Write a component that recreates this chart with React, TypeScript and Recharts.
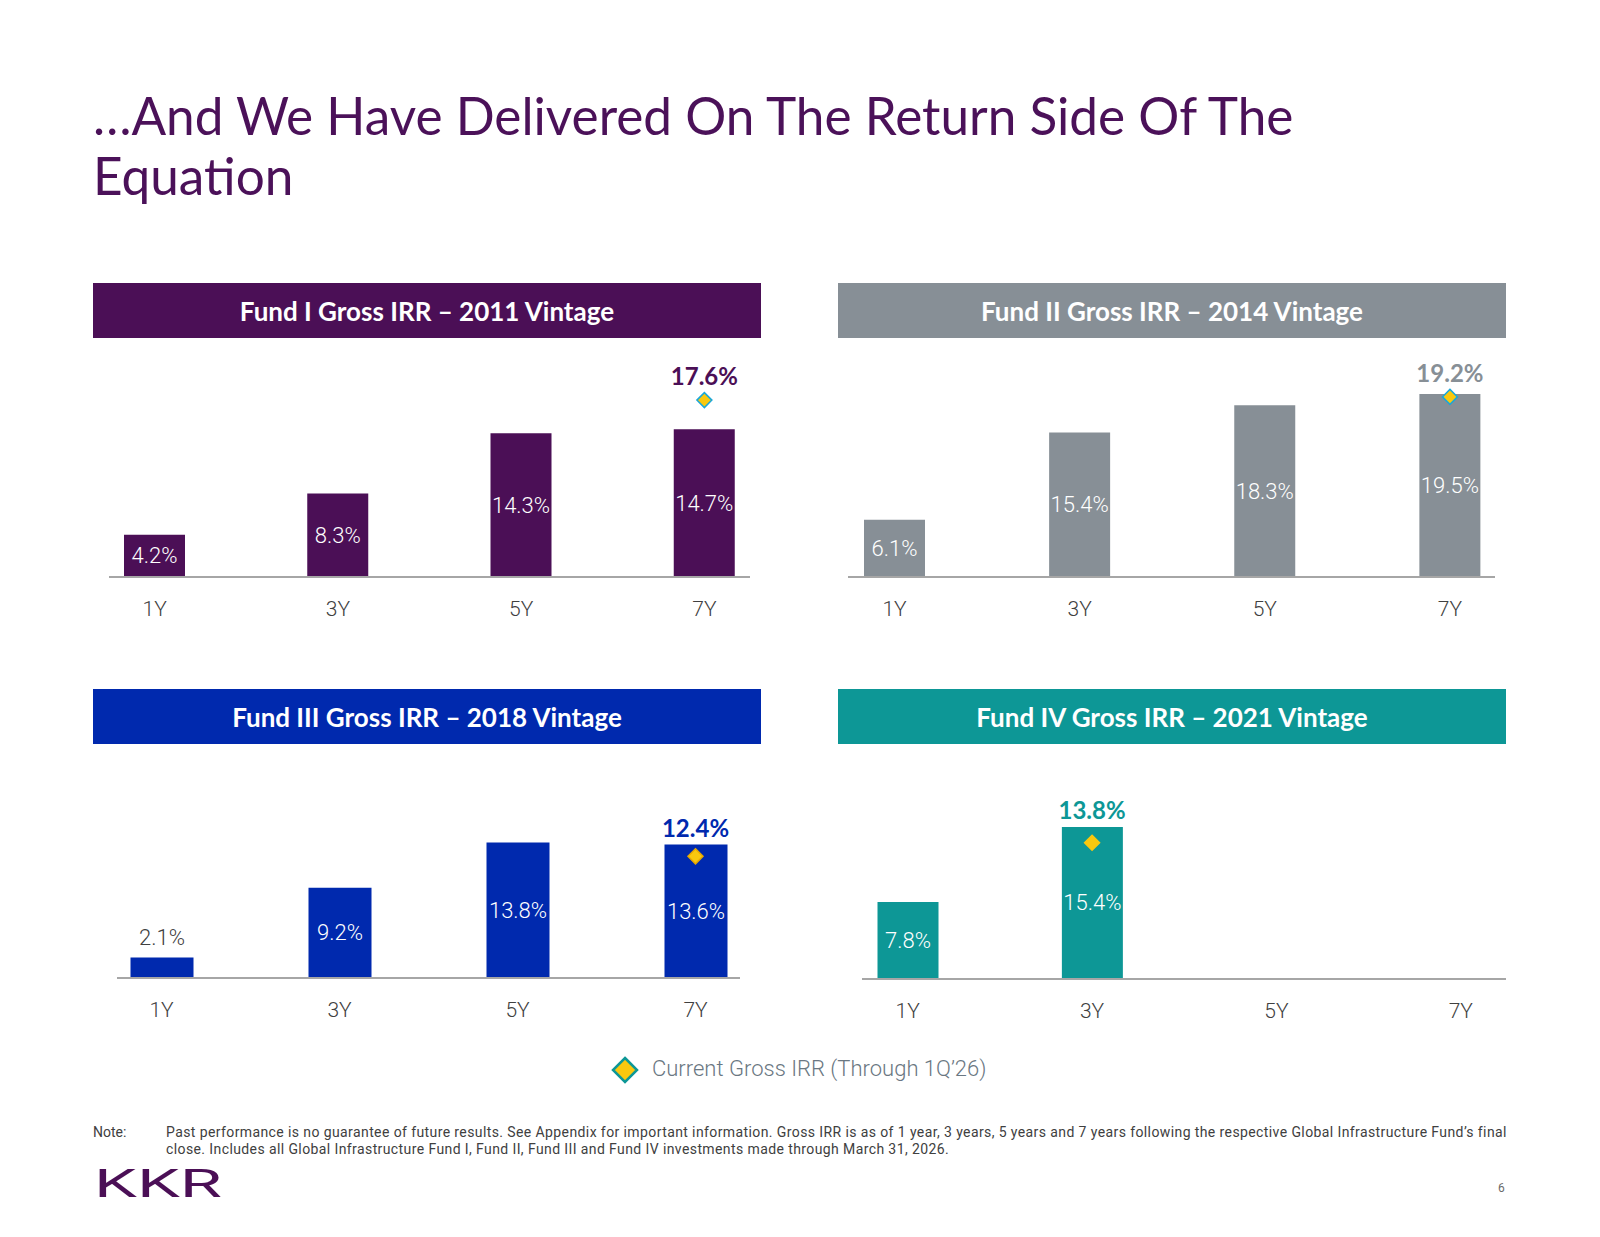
import React from 'react';
import { ComposedChart, Bar, Line, XAxis, YAxis, LabelList } from 'recharts';

// Holding periods shown on every panel
const periods = ['1Y', '3Y', '5Y', '7Y'];

// Gross IRR (%) by holding period, one array per fund
const fund1Irr = [4.2, 8.3, 14.3, 14.7];
const fund2Irr = [6.1, 15.4, 18.3, 19.5];
const fund3Irr = [2.1, 9.2, 13.8, 13.6];
const fund4Irr = [7.8, 15.4, null, null];

// Current gross IRR (through 1Q'26), placed on the latest period reached
const fund1Current = [null, null, null, 17.6];
const fund2Current = [null, null, null, 19.2];
const fund3Current = [null, null, null, 12.4];
const fund4Current = [null, 13.8, null, null];

const fundTitles = [
  'Fund I Gross IRR – 2011 Vintage',
  'Fund II Gross IRR – 2014 Vintage',
  'Fund III Gross IRR – 2018 Vintage',
  'Fund IV Gross IRR – 2021 Vintage',
];

const PURPLE = '#4B0F56';
const GRAY = '#878F96';
const BLUE = '#0029AE';
const TEAL = '#0D9796';
const DIAMOND_FILL = '#F9C80E';
const TEXT_DARK = '#404040';

const LIGHT_FONT = 'Roboto, sans-serif';
const HEAD_FONT = 'Lato, sans-serif';

type Val = number | null;

interface PanelConfig {
  title: string;
  color: string;
  diamondStroke: string;
  irr: Val[];
  current: Val[];
  headerLeft: number;
  headerTop: number;
  axisLeft: number;
  axisRight: number;
  baseline: number;
  yMax: number;
  plotHeight: number;
  padLeft: number;
  padRight: number;
  barSize: number;
}

const HEADER_W = 668;
const HEADER_H = 55;
const MARGIN_TOP = 60;
const AXIS_H = 60;

const panels: PanelConfig[] = [
  {
    title: fundTitles[0], color: PURPLE, diamondStroke: '#1AA7D9',
    irr: fund1Irr, current: fund1Current,
    headerLeft: 93, headerTop: 283,
    axisLeft: 109, axisRight: 750, baseline: 577,
    yMax: 20, plotHeight: 201, padLeft: -46, padRight: -46, barSize: 61,
  },
  {
    title: fundTitles[1], color: GRAY, diamondStroke: '#1AA7D9',
    irr: fund2Irr, current: fund2Current,
    headerLeft: 838, headerTop: 283,
    axisLeft: 848, axisRight: 1495, baseline: 577,
    yMax: 21, plotHeight: 197, padLeft: -46, padRight: -47.5, barSize: 61,
  },
  {
    title: fundTitles[2], color: BLUE, diamondStroke: '#E8A800',
    irr: fund3Irr, current: fund3Current,
    headerLeft: 93, headerTop: 689,
    axisLeft: 117, axisRight: 740, baseline: 978,
    yMax: 16, plotHeight: 157, padLeft: -44.5, padRight: -44.5, barSize: 63,
  },
  {
    title: fundTitles[3], color: TEAL, diamondStroke: DIAMOND_FILL,
    irr: fund4Irr, current: fund4Current,
    headerLeft: 838, headerTop: 689,
    axisLeft: 862, axisRight: 1506, baseline: 979,
    yMax: 16, plotHeight: 158, padLeft: -46.5, padRight: -47, barSize: 61,
  },
];

const fmt = (v: number) => `${v.toFixed(1)}%`;

const Diamond = ({ cx, cy, r, fill, stroke, sw }: any) => (
  <polygon
    points={`${cx},${cy - r} ${cx + r},${cy} ${cx},${cy + r} ${cx - r},${cy}`}
    fill={fill}
    stroke={stroke}
    strokeWidth={sw}
  />
);

const PeriodTick = ({ x, y, payload }: any) => (
  <text x={x} y={y} textAnchor="middle" dominantBaseline="central"
    fontFamily={LIGHT_FONT} fontWeight={300} fontSize={21} fill={TEXT_DARK}>
    {payload.value}
  </text>
);

const FundPanel = ({ p }: { p: PanelConfig }) => {
  const data = periods.map((period, i) => ({ period, irr: p.irr[i], current: p.current[i] }));
  const width = p.axisRight - p.axisLeft;
  const height = MARGIN_TOP + p.plotHeight + AXIS_H;
  const baseLocal = MARGIN_TOP + p.plotHeight;
  const toY = (v: number) => baseLocal - (v / p.yMax) * p.plotHeight;

  const barLabel = (props: any) => {
    const box = props.viewBox ?? props;
    const { value } = props;
    if (value == null) return null;
    const x = box.x + box.width / 2;
    const small = box.height < 30;
    return (
      <text x={x} y={small ? box.y - 20 : box.y + box.height / 2}
        textAnchor="middle" dominantBaseline="central"
        fontFamily={LIGHT_FONT} fontWeight={300} fontSize={22}
        fill={small ? TEXT_DARK : '#FFFFFF'}>
        {fmt(value)}
      </text>
    );
  };

  const renderDiamond = (props: any) => {
    const { cx, cy, index, payload } = props;
    if (payload?.current == null || cx == null || cy == null) return <g key={`d${index}`} />;
    const barTop = payload.irr != null ? toY(payload.irr) : baseLocal;
    const labelY = Math.min(cy - 7.5, barTop) - 17;
    return (
      <g key={`d${index}`}>
        <Diamond cx={cx} cy={cy} r={7.5} fill={DIAMOND_FILL} stroke={p.diamondStroke} sw={1.5} />
        <text x={cx} y={labelY} textAnchor="middle" dominantBaseline="central"
          fontFamily={HEAD_FONT} fontWeight={700} fontSize={24} fill={p.color}>
          {fmt(payload.current)}
        </text>
      </g>
    );
  };

  return (
    <>
      <div style={{
        position: 'absolute', left: p.headerLeft, top: p.headerTop, width: HEADER_W, height: HEADER_H,
        background: p.color, color: '#FFFFFF', display: 'flex', alignItems: 'center', justifyContent: 'center',
        fontFamily: HEAD_FONT, fontWeight: 700, fontSize: 26,
      }}>
        {p.title}
      </div>
      <div style={{ position: 'absolute', left: p.axisLeft, top: p.baseline - baseLocal }}>
        <ComposedChart width={width} height={height} data={data}
          margin={{ top: MARGIN_TOP, right: 0, bottom: 0, left: 0 }}>
          <XAxis dataKey="period" height={AXIS_H} padding={{ left: p.padLeft, right: p.padRight }}
            axisLine={{ stroke: '#A6A6A6', strokeWidth: 2 }} tickLine={false}
            tickSize={0} tickMargin={32} tick={<PeriodTick />} interval={0} />
          <YAxis hide domain={[0, p.yMax]} />
          <Bar dataKey="irr" fill={p.color} barSize={p.barSize} isAnimationActive={false}>
            <LabelList dataKey="irr" content={barLabel} />
          </Bar>
          <Line dataKey="current" stroke="none" dot={renderDiamond} activeDot={false}
            isAnimationActive={false} legendType="none" />
        </ComposedChart>
      </div>
    </>
  );
};

const App = () => (
  <div style={{ position: 'absolute', left: 0, top: 0, width: 1600, height: 1237, background: '#FFFFFF', overflow: 'hidden' }}>
    <div style={{
      position: 'absolute', left: 93, top: 85, width: 1400,
      fontFamily: HEAD_FONT, fontSize: 51.3, lineHeight: '60px', color: '#4B1159',
    }}>
      …And We Have Delivered On The Return Side Of The<br />Equation
    </div>

    {panels.map((p) => <FundPanel key={p.title} p={p} />)}

    {/* legend */}
    <svg style={{ position: 'absolute', left: 611, top: 1056 }} width={28} height={28}>
      <Diamond cx={14} cy={14} r={12} fill={DIAMOND_FILL} stroke={TEAL} sw={2.5} />
    </svg>
    <div style={{
      position: 'absolute', left: 652, top: 1054, height: 30, lineHeight: '30px',
      fontFamily: LIGHT_FONT, fontWeight: 300, fontSize: 22, color: '#6A7782', whiteSpace: 'nowrap',
    }}>
      Current Gross IRR (Through 1Q’26)
    </div>

    {/* footnote */}
    <div style={{
      position: 'absolute', left: 93, top: 1124, fontFamily: LIGHT_FONT, fontSize: 14,
      lineHeight: '17px', color: '#404040', whiteSpace: 'nowrap',
    }}>
      Note:
    </div>
    <div style={{
      position: 'absolute', left: 166, top: 1124, fontFamily: LIGHT_FONT, fontSize: 14, letterSpacing: 0.4,
      lineHeight: '17px', color: '#404040', whiteSpace: 'nowrap',
    }}>
      Past performance is no guarantee of future results. See Appendix for important information. Gross IRR is as of 1 year, 3 years, 5 years and 7 years following the respective Global Infrastructure Fund’s final<br />
      close. Includes all Global Infrastructure Fund I, Fund II, Fund III and Fund IV investments made through March 31, 2026.
    </div>

    <svg style={{ position: 'absolute', left: 90, top: 1162 }} width={150} height={44}>
      <text x={4} y={35} fontFamily={LIGHT_FONT} fontWeight={400} fontSize={38} fill={PURPLE}
        textLength={128} lengthAdjust="spacingAndGlyphs">KKR</text>
    </svg>

    <div style={{
      position: 'absolute', left: 1498, top: 1181, fontFamily: LIGHT_FONT, fontSize: 12, color: '#6A6A6A',
    }}>
      6
    </div>
  </div>
);

export default App;
